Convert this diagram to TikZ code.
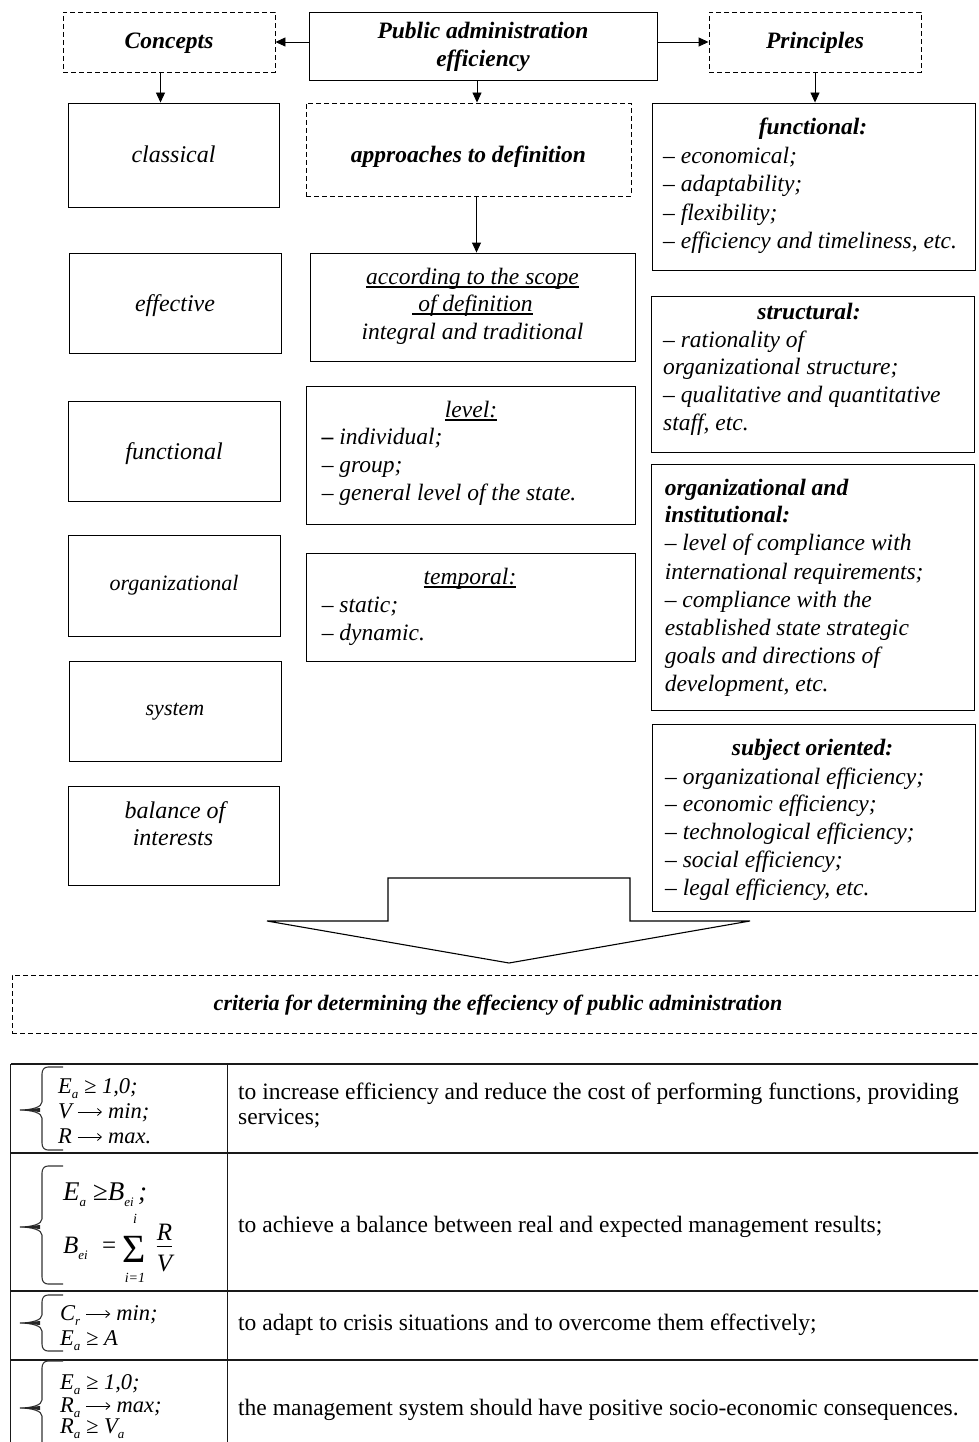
\documentclass[tikz,border=0pt]{standalone}
\usepackage{fontspec}
\setmainfont{Liberation Serif}
\usetikzlibrary{arrows.meta,calc}
\newcommand\rbox[6]{%
  \pgfmathsetmacro\cx{(#3+#5)/2}\pgfmathsetmacro\cy{(#4+#6)/2}%
  \pgfmathsetmacro\ww{#5-#3}\pgfmathsetmacro\hh{#6-#4}%
  \node[#1, minimum width=\ww pt, minimum height=\hh pt] (#2) at (\cx,\cy) {};}
\newcommand\myul[1]{\setbox0\hbox{#1}\rlap{\rule[-3.5pt]{\wd0}{1.1pt}}\box0}
\newcommand\lo[1]{\raisebox{-0.25em}{\fontsize{13}{13}\selectfont #1}}
\newcommand\ra{\tikz[x=1pt,y=1pt,baseline=-6pt]\draw[line width=0.8pt,-{Straight Barb[length=4pt,width=7pt]}] (0,0) -- (24,0);}
\newcommand\mybrace[3]{% top mid bottom (tip at x=20)
  \draw[brc] (63,#1) -- (48,#1) .. controls (44,#1) and (42,#1+3) .. (42,#1+7)
    -- (42,#2-8) .. controls (42,#2-3) and (32,#2) .. (20,#2)
    .. controls (32,#2) and (42,#2+3) .. (42,#2+8)
    -- (42,#3-7) .. controls (42,#3-3) and (44,#3) .. (48,#3) -- (63,#3);
  \fill[black!85] (20,#2) -- (40,#2-2) -- (40,#2+2) -- cycle;}
\begin{document}
\begin{tikzpicture}[x=1pt,y=-1pt,
  bx/.style={draw=black, line width=0.9pt, inner sep=0pt, rectangle},
  dbx/.style={bx, dash pattern=on 5pt off 3pt},
  ar/.style={line width=0.9pt, -{Triangle[length=10pt,width=9pt]}},
  it/.style={font=\fontsize{23.5}{27.6}\selectfont\itshape, inner sep=0pt, anchor=base},
  itc/.style={font=\fontsize{24}{27.6}\selectfont\itshape, inner sep=0pt, anchor=base},
  its/.style={font=\fontsize{22}{26}\selectfont\itshape, inner sep=0pt, anchor=base},
  bi/.style={font=\fontsize{23.5}{27.6}\selectfont\bfseries\itshape, inner sep=0pt, anchor=base},
  bil/.style={bi, anchor=base west},
  itl/.style={it, anchor=base west},
  rm/.style={font=\fontsize{23.5}{27.6}\selectfont, inner sep=0pt, anchor=base west},
  fm/.style={font=\fontsize{22.5}{25}\selectfont\itshape, inner sep=0pt, anchor=base west},
  tl/.style={line width=1.6pt, draw=black!90},
  brc/.style={line width=1.1pt, draw=black!80},
  bigarrow/.style={draw=black, line width=1.1pt, line join=miter}]
\useasboundingbox (0,0) rectangle (978,1442);
\clip (0,0) rectangle (978,1442);
% ---------- boxes
\rbox{dbx}{concepts}{63}{12}{275}{72}
\rbox{bx}{pae}{309}{12}{657}{80}
\rbox{dbx}{principles}{709}{12}{921}{72}
\rbox{bx}{classical}{68}{103}{279}{207}
\rbox{dbx}{approaches}{306}{103}{631}{196}
\rbox{bx}{funcp}{652}{103}{975}{270}
\rbox{bx}{effective}{69}{253}{281}{353}
\rbox{bx}{scope}{310}{253}{635}{361}
\rbox{bx}{funcc}{68}{401}{280}{501}
\rbox{bx}{level}{306}{386}{635}{524}
\rbox{bx}{structural}{651}{296}{974}{452}
\rbox{bx}{orginst}{651}{464}{974}{710}
\rbox{bx}{organiz}{68}{535}{280}{636}
\rbox{bx}{temporal}{306}{553}{635}{661}
\rbox{bx}{system}{69}{661}{281}{761}
\rbox{bx}{subject}{652}{724}{975}{911}
\rbox{bx}{balance}{68}{786}{279}{885}
\rbox{dbx}{criteria}{12}{975}{995}{1033}
% ---------- arrows
\draw[ar] (pae.west |- concepts.east) -- (concepts.east);
\draw[ar] (pae.east |- principles.west) -- (principles.west);
\draw[ar] ([xshift=-8.5pt]concepts.south) -- ([xshift=-8.5pt]concepts.south |- classical.north);
\draw[ar] ([xshift=-6pt]pae.south) -- ([xshift=-6pt]pae.south |- approaches.north);
\draw[ar] (principles.south) -- (principles.south |- funcp.north);
\draw[ar] ([xshift=8pt]approaches.south) -- ([xshift=8pt]approaches.south |- scope.north);
\draw[bigarrow] (388,878) -- (630,878) -- (630,921) -- (750,921) -- (509,963) -- (267,921) -- (388,921) -- cycle;
% ---------- top texts
\node[bi] (tConcepts) at (169,49) {Concepts};
\node[bi] (tPae1) at (483,39) {Public administration};
\node[bi] (tPae2) at (483,67) {efficiency};
\node[bi] (tPrinc) at (815,49) {Principles};
\node[itc] (tClass) at (173.5,163) {classical};
\node[bi] (tAppr) at (468.5,163) {approaches to definition};
% functional principles
\node[bi] (tFuncH) at (813,135) {functional:};
\node[itl] (tF1) at (663,164) {– economical;};
\node[itl] (tF2) at (663,192) {– adaptability;};
\node[itl] (tF3) at (663,220) {– flexibility;};
\node[itl] (tF4) at (663,248) {– efficiency and timeliness, etc.};
% concepts column
\node[itc] (tEff) at (175,311) {effective};
\node[itc] (tFuncc) at (174,459) {functional};
\node[its] (tOrg) at (174,590) {organizational};
\node[its] (tSys) at (175,715) {system};
\node[itc] (tBal1) at (175,818) {balance of};
\node[itc] (tBal2) at (173,845) {interests};
% approaches column
\node[it] (tSc1) at (472.5,284) {\myul{according to the scope}};
\node[it] (tSc2) at (472.5,311) {\myul{\ of definition}};
\node[it] (tSc3) at (472.5,339) {integral and traditional};
\node[it] (tLevH) at (471,417) {\myul{level:}};
\node[itl] (tL1) at (321.6,444) {{\bfseries –} individual;};
\node[itl] (tL2) at (321.6,472) {– group;};
\node[itl] (tL3) at (321.6,500) {– general level of the state.};
\node[it] (tTempH) at (470,584) {\myul{temporal:}};
\node[itl] (tT1) at (321.6,612) {– static;};
\node[itl] (tT2) at (321.6,640) {– dynamic.};
% structural
\node[bi] (tStrH) at (809,319) {structural:};
\node[itl] (tS1) at (663,347) {– rationality of};
\node[itl] (tS2) at (663,374) {organizational structure;};
\node[itl] (tS3) at (663,402) {– qualitative and quantitative};
\node[itl] (tS4) at (663,430) {staff, etc.};
% organizational and institutional
\node[bil] (tOiH1) at (664.6,495) {organizational and};
\node[bil] (tOiH2) at (664.6,522) {institutional:};
\node[itl] (tO1) at (664.6,550) {– level of compliance with};
\node[itl] (tO2) at (664.6,579) {international requirements;};
\node[itl] (tO3) at (664.6,607) {– compliance with the};
\node[itl] (tO4) at (664.6,635) {established state strategic};
\node[itl] (tO5) at (664.6,663) {goals and directions of};
\node[itl] (tO6) at (664.6,691) {development, etc.};
% subject oriented
\node[bi] (tSubH) at (812.5,755) {subject oriented:};
\node[itl] (tB1) at (665,784) {– organizational efficiency;};
\node[itl] (tB2) at (665,811) {– economic efficiency;};
\node[itl] (tB3) at (665,839) {– technological efficiency;};
\node[itl] (tB4) at (665,867) {– social efficiency;};
\node[itl] (tB5) at (665,895) {– legal efficiency, etc.};
% criteria
\node[bi, font=\fontsize{22}{26}\selectfont\bfseries\itshape] (tCrit) at (498,1010) {criteria for determining the effeciency of public administration};
% ---------- table
\draw[tl] (10.5,1064) -- (995,1064);
\draw[tl] (10.5,1153) -- (995,1153);
\draw[tl] (10.5,1291) -- (995,1291);
\draw[tl] (10.5,1360) -- (995,1360);
\draw[tl] (10.5,1064) -- (10.5,1450);
\draw[tl] (227.5,1064) -- (227.5,1450);
\node[rm] (tR1a) at (238,1099) {to increase efficiency and reduce the cost of performing functions, providing};
\node[rm] (tR1b) at (238,1124) {services;};
\node[rm] (tR2) at (238,1232) {to achieve a balance between real and expected management results;};
\node[rm] (tR3) at (238,1330) {to adapt to crisis situations and to overcome them effectively;};
\node[rm] (tR4) at (238,1415) {the management system should have positive socio-economic consequences.};
% formulas
\mybrace{1067}{1110}{1150}
\node[fm] (f1a) at (58,1093) {E\lo{a} ≥ 1,0;};
\node[fm] (f1b) at (58,1118) {V \ra\ min;};
\node[fm] (f1c) at (58,1143) {R \ra\ max.};
\mybrace{1166}{1227}{1284}
\node[fm, font=\fontsize{27}{30}\selectfont\itshape] (f2a) at (63,1200) {E\lo{a} ≥B\lo{ei}\,;};
\node[fm, font=\fontsize{25}{30}\selectfont\itshape] (f2b) at (63,1253) {B\lo{ei}};
\node[fm, font=\fontsize{25}{30}\selectfont] (f2eq) at (102,1253) {=};
\node[anchor=base west, inner sep=0pt, font=\fontsize{40}{40}\selectfont] (f2sum) at (122,1262) {Σ};
\node[anchor=base, inner sep=0pt, font=\fontsize{14}{14}\selectfont\itshape] (f2up) at (135,1223) {i};
\node[anchor=base, inner sep=0pt, font=\fontsize{14}{14}\selectfont\itshape] (f2dn) at (135,1282) {i=1};
\node[anchor=base, inner sep=0pt, font=\fontsize{25}{30}\selectfont\itshape] (f2R) at (164.5,1240) {R};
\node[anchor=base, inner sep=0pt, font=\fontsize{25}{30}\selectfont\itshape] (f2V) at (164.5,1271) {V};
\draw[line width=1pt] (f2R.south west |- 0,1246) -- (f2R.south east |- 0,1246);
\mybrace{1295}{1323}{1351}
\node[fm] (f3a) at (60,1320) {C\lo{r} \ra\ min;};
\node[fm] (f3b) at (60,1345) {E\lo{a} ≥ A};
\mybrace{1361}{1408}{1456}
\node[fm] (f4a) at (60,1389) {E\lo{a} ≥ 1,0;};
\node[fm] (f4b) at (60,1412) {R\lo{a} \ra\ max;};
\node[fm] (f4c) at (60,1433) {R\lo{a} ≥ V\lo{a}};
\end{tikzpicture}
\end{document}
